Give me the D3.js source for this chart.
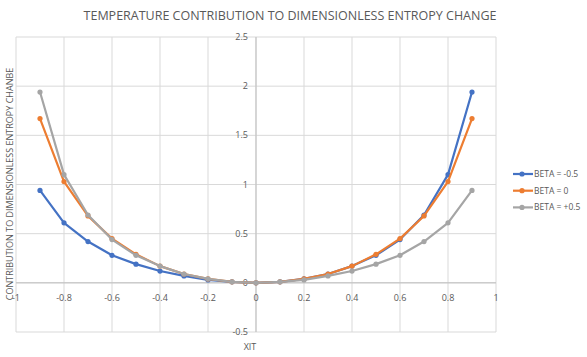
<!DOCTYPE html>
<html><head><meta charset="utf-8">
<script src="https://cdn.jsdelivr.net/npm/d3@7"></script>
<style>body{margin:0;background:#fff}svg{display:block}text{font-family:"Open Sans",sans-serif;fill:#595959}</style>
</head><body><div id="c"></div>
<script>
const xValues = [-0.9,-0.8,-0.7,-0.6,-0.5,-0.4,-0.3,-0.2,-0.1,0,0.1,0.2,0.3,0.4,0.5,0.6,0.7,0.8,0.9];
const betaNeg = [0.94,0.61,0.42,0.28,0.19,0.12,0.07,0.03,0.01,0,0.01,0.04,0.09,0.17,0.28,0.44,0.69,1.10,1.94];
const betaZero = [1.67,1.03,0.68,0.45,0.29,0.17,0.09,0.04,0.01,0,0.01,0.04,0.09,0.17,0.29,0.45,0.68,1.03,1.67];
const betaPos = [1.94,1.10,0.69,0.44,0.28,0.17,0.09,0.04,0.01,0,0.01,0.03,0.07,0.12,0.19,0.28,0.42,0.61,0.94];
const seriesNames = ["BETA = -0.5","BETA = 0","BETA = +0.5"];
const xTicks = [-1,-0.8,-0.6,-0.4,-0.2,0,0.2,0.4,0.6,0.8,1];
const yTicks = [-0.5,0,0.5,1,1.5,2,2.5];
const colors = ["#4472C4","#ED7D31","#A5A5A5"];

const W=587,H=357;
const svg=d3.select("#c").append("svg").attr("width",W).attr("height",H);
const x=d3.scaleLinear().domain([-1,1]).range([16,496]);
const y=d3.scaleLinear().domain([-0.5,2.5]).range([332,37]);

// gridlines
const g=svg.append("g");
g.selectAll("line.vx").data(xTicks).join("line")
 .attr("x1",d=>x(d)).attr("x2",d=>x(d)).attr("y1",y(2.5)).attr("y2",y(-0.5))
 .attr("stroke","#d9d9d9").attr("stroke-width",1);
g.selectAll("line.hy").data(yTicks).join("line")
 .attr("y1",d=>y(d)).attr("y2",d=>y(d)).attr("x1",x(-1)).attr("x2",x(1))
 .attr("stroke","#d9d9d9").attr("stroke-width",1);
// axes
svg.append("line").attr("x1",x(0)).attr("x2",x(0)).attr("y1",y(2.5)).attr("y2",y(-0.5)).attr("stroke","#bfbfbf");
svg.append("line").attr("x1",x(-1)).attr("x2",x(1)).attr("y1",y(0)).attr("y2",y(0)).attr("stroke","#bfbfbf");

// tick labels
svg.selectAll("text.yt").data(yTicks).join("text")
 .attr("x",x(0)-8).attr("y",d=>y(d)).attr("dy","0.35em").attr("text-anchor","end")
 .attr("font-size",9).text(d=>d);
svg.selectAll("text.xt").data(xTicks).join("text")
 .attr("x",d=>x(d)).attr("y",y(0)+15).attr("dy","0.35em").attr("text-anchor","middle")
 .attr("font-size",9).text(d=>d);

// series
const all=[betaNeg,betaZero,betaPos];
const line=d3.line().x((d,i)=>x(xValues[i])).y(d=>y(d));
all.forEach((s,k)=>{
  svg.append("path").datum(s).attr("d",line).attr("fill","none")
   .attr("stroke",colors[k]).attr("stroke-width",2.2).attr("stroke-linejoin","round");
  svg.append("g").selectAll("circle").data(s).join("circle")
   .attr("cx",(d,i)=>x(xValues[i])).attr("cy",d=>y(d)).attr("r",2.6).attr("fill",colors[k]);
});

// titles
svg.append("text").attr("x",290).attr("y",20).attr("text-anchor","middle").attr("font-size",12.5)
 .text("TEMPERATURE CONTRIBUTION TO DIMENSIONLESS ENTROPY CHANGE");
svg.append("text").attr("x",250).attr("y",347).attr("dy","0.35em").attr("text-anchor","middle").attr("font-size",9).text("XIT");
svg.append("text").attr("transform","translate(10,184) rotate(-90)").attr("dy","0.35em").attr("text-anchor","middle")
 .attr("font-size",9).text("CONTRIBUTION TO DIMENSIONLESS ENTROPY CHANBE");

// legend
const lg=svg.append("g");
seriesNames.forEach((n,k)=>{
  const yy=174+k*16.7;
  lg.append("line").attr("x1",513).attr("x2",533).attr("y1",yy).attr("y2",yy).attr("stroke",colors[k]).attr("stroke-width",2.2);
  lg.append("circle").attr("cx",522).attr("cy",yy).attr("r",2.6).attr("fill",colors[k]);
  lg.append("text").attr("x",534).attr("y",yy).attr("dy","0.35em").attr("font-size",8.5).text(n);
});
</script></body></html>
